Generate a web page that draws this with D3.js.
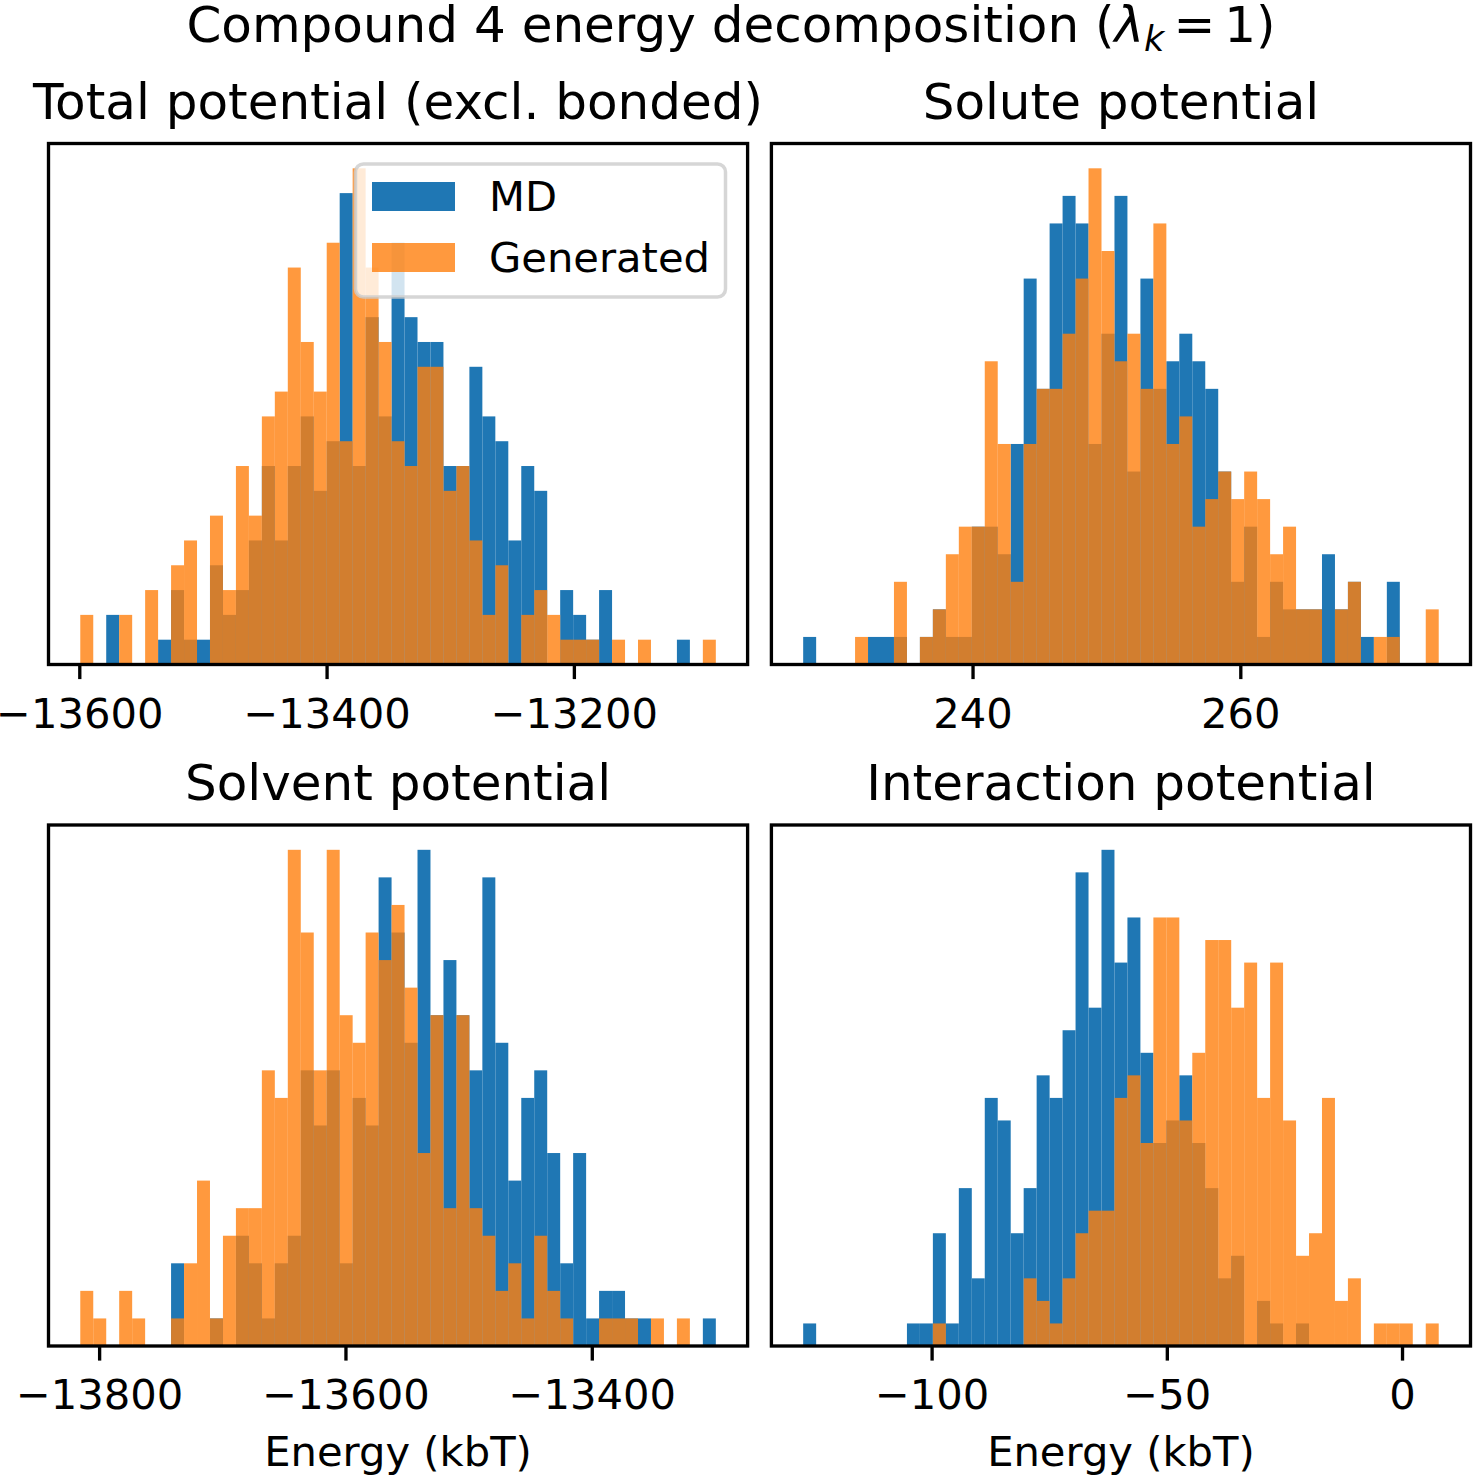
<!DOCTYPE html>
<html>
<head>
<meta charset="utf-8">
<script src="https://cdn.jsdelivr.net/npm/d3@7"></script>
<style>
	body { margin: 0; background: #fff; }
	svg text { font-family: "DejaVu Sans", sans-serif; fill: #000; }
</style>
</head>
<body>
<div id="figure"></div>
<script>
// counts per bin (49 equal bins between the range ends)
var totalMD = [0, 0, 2, 0, 0, 0, 1, 3, 1, 1, 4, 2, 3, 5, 8, 5, 8, 10, 7, 9, 19, 8, 14, 10, 17, 14, 13, 13, 8, 8, 12, 10, 9, 5, 8, 7, 0, 3, 2, 1, 3, 0, 0, 0, 0, 0, 1, 0, 0];
var totalGen = [2, 0, 0, 2, 0, 3, 0, 4, 5, 0, 6, 3, 8, 6, 10, 11, 16, 13, 11, 17, 9, 20, 16, 13, 9, 8, 12, 12, 7, 8, 5, 2, 4, 0, 2, 3, 2, 1, 1, 1, 0, 1, 0, 1, 0, 0, 0, 0, 1];
var totalRange = [-13599.2, -13085.2];
var totalTicks = [-13600, -13400, -13200];

var soluteMD = [1, 0, 0, 0, 0, 1, 1, 1, 0, 1, 2, 1, 1, 5, 5, 4, 8, 14, 10, 16, 17, 16, 8, 12, 17, 7, 14, 10, 11, 12, 11, 10, 7, 3, 5, 1, 3, 2, 2, 2, 4, 2, 3, 1, 0, 3, 0, 0, 0];
var soluteGen = [0, 0, 0, 0, 1, 0, 0, 3, 0, 1, 2, 4, 5, 5, 11, 8, 3, 8, 10, 10, 12, 14, 18, 15, 11, 12, 10, 16, 8, 9, 5, 6, 7, 6, 7, 6, 4, 5, 2, 2, 0, 2, 3, 0, 1, 1, 0, 0, 2];
var soluteRange = [227.35, 274.82];
var soluteTicks = [240, 260];

var solventMD = [0, 0, 0, 0, 0, 0, 0, 3, 0, 0, 1, 0, 4, 3, 1, 3, 4, 10, 8, 10, 3, 9, 8, 17, 15, 11, 18, 12, 14, 12, 10, 17, 11, 6, 9, 10, 7, 3, 7, 1, 2, 2, 1, 1, 0, 0, 0, 0, 1];
var solventGen = [2, 1, 0, 2, 1, 0, 0, 1, 3, 6, 1, 4, 5, 5, 10, 9, 18, 15, 10, 18, 12, 11, 15, 14, 16, 13, 7, 12, 5, 12, 5, 4, 2, 3, 1, 4, 2, 1, 0, 0, 1, 1, 1, 0, 1, 0, 1, 0, 0];
var solventRange = [-13815.3, -13299.3];
var solventTicks = [-13800, -13600, -13400];

var interMD = [1, 0, 0, 0, 0, 0, 0, 0, 1, 1, 5, 1, 7, 3, 11, 10, 5, 7, 12, 11, 14, 21, 15, 22, 17, 19, 13, 9, 10, 12, 9, 7, 3, 4, 0, 2, 1, 0, 1, 0, 0, 0, 0, 0, 0, 0, 0, 0, 0];
var interGen = [0, 0, 0, 0, 0, 0, 0, 0, 0, 0, 1, 0, 0, 0, 0, 0, 0, 3, 2, 1, 3, 5, 6, 6, 11, 12, 9, 19, 19, 10, 13, 18, 18, 15, 17, 11, 17, 10, 4, 5, 11, 2, 3, 0, 1, 1, 1, 0, 1];
var interRange = [-127.3, 7.8];
var interTicks = [-100, -50, 0];

var seriesNames = ["MD", "Generated"];

var blue = "#1f77b4",
	orange = "#ff7f0e";

var W = 699.1,
	H = 521;

var svg = d3.select("#figure")
	.append("svg")
	.attr("width", 1473)
	.attr("height", 1476);

// suptitle with the lambda_k bit (tighter spacing, like mathtext)
var sup = svg.append("text")
	.attr("x", 731)
	.attr("y", 42)
	.attr("text-anchor", "middle")
	.style("font-size", "50px");
sup.append("tspan").text("Compound 4 energy decomposition (");
sup.append("tspan").style("font-style", "italic").text("λ");
sup.append("tspan").style("font-style", "italic").style("font-size", "35px").attr("dy", 9).text("k");
sup.append("tspan").attr("dy", -9).attr("dx", 9).text("=");
sup.append("tspan").attr("dx", 9).text("1)");

function drawPanel(left, top, title, md, gen, range, ticks, showLabel) {
	var n = md.length;
	var step = (range[1] - range[0]) / n;
	var edges = d3.range(n + 1).map(function(i) {
		return range[0] + i * step;
	});
	var pad = 0.05 * (range[1] - range[0]);

	var x = d3.scaleLinear()
		.domain([range[0] - pad, range[1] + pad])
		.range([0, W]);
	var y = d3.scaleLinear()
		.domain([0, d3.max(md.concat(gen)) * 1.05])
		.range([H, 0]);

	var g = svg.append("g")
		.attr("transform", "translate(" + left + "," + top + ")");

	// MD bars
	g.selectAll("rect.md")
		.data(md)
		.enter()
		.append("rect")
		.attr("class", "md")
		.attr("x", function(d, i) { return x(edges[i]); })
		.attr("width", function(d, i) { return x(edges[i + 1]) - x(edges[i]); })
		.attr("y", function(d) { return y(d); })
		.attr("height", function(d) { return H - y(d); })
		.attr("fill", blue);

	// Generated bars on top, semi transparent
	g.selectAll("rect.gen")
		.data(gen)
		.enter()
		.append("rect")
		.attr("class", "gen")
		.attr("x", function(d, i) { return x(edges[i]); })
		.attr("width", function(d, i) { return x(edges[i + 1]) - x(edges[i]); })
		.attr("y", function(d) { return y(d); })
		.attr("height", function(d) { return H - y(d); })
		.attr("fill", orange)
		.attr("fill-opacity", 0.8);

	// x axis
	var ax = g.append("g")
		.attr("transform", "translate(0," + H + ")")
		.call(d3.axisBottom(x).tickValues(ticks).tickFormat(d3.format("d")).tickSize(14.6).tickPadding(14.6));
	ax.select(".domain").remove();
	ax.selectAll(".tick line").attr("stroke", "#000").attr("stroke-width", 3.33);
	ax.selectAll(".tick text")
		.attr("dy", "0.82em")
		.attr("font-family", "DejaVu Sans")
		.style("font-size", "41.67px");

	// frame
	g.append("rect")
		.attr("width", W)
		.attr("height", H)
		.attr("fill", "none")
		.attr("stroke", "#000")
		.attr("stroke-width", 3.33);

	g.append("text")
		.attr("x", W / 2)
		.attr("y", -25)
		.attr("text-anchor", "middle")
		.style("font-size", "50px")
		.text(title);

	if (showLabel) {
		g.append("text")
			.attr("x", W / 2)
			.attr("y", H + 120)
			.attr("text-anchor", "middle")
			.style("font-size", "41.67px")
			.text("Energy (kbT)");
	}
}

drawPanel(48.5, 143.5, "Total potential (excl. bonded)", totalMD, totalGen, totalRange, totalTicks, false);
drawPanel(771.4, 143.5, "Solute potential", soluteMD, soluteGen, soluteRange, soluteTicks, false);
drawPanel(48.5, 825, "Solvent potential", solventMD, solventGen, solventRange, solventTicks, true);
drawPanel(771.4, 825, "Interaction potential", interMD, interGen, interRange, interTicks, true);

// legend in the first panel
var legend = svg.append("g");
legend.append("rect")
	.attr("x", 355.5)
	.attr("y", 164)
	.attr("width", 370)
	.attr("height", 133)
	.attr("rx", 8)
	.attr("fill", "#fff")
	.attr("fill-opacity", 0.8)
	.attr("stroke", "#cccccc")
	.attr("stroke-opacity", 0.8)
	.attr("stroke-width", 3.5);

legend.selectAll("rect.key")
	.data(seriesNames)
	.enter()
	.append("rect")
	.attr("class", "key")
	.attr("x", 372)
	.attr("y", function(d, i) { return 182 + i * 61; })
	.attr("width", 83)
	.attr("height", 29)
	.attr("fill", function(d, i) { return i == 0 ? blue : orange; })
	.attr("fill-opacity", function(d, i) { return i == 0 ? 1 : 0.8; });

legend.selectAll("text")
	.data(seriesNames)
	.enter()
	.append("text")
	.attr("x", 489)
	.attr("y", function(d, i) { return 211 + i * 61; })
	.style("font-size", "41.67px")
	.text(function(d) { return d; });
</script>
</body>
</html>
